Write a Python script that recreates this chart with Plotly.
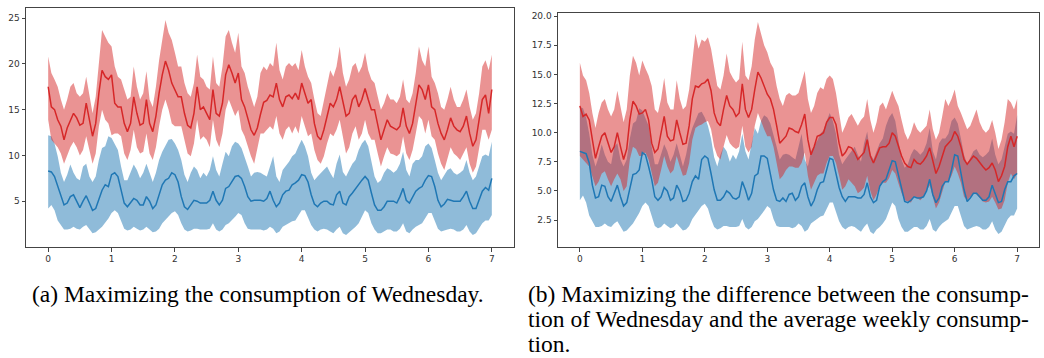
import plotly.graph_objects as go

# time axis in days (sampled every 0.05 day)
N_POINTS = 141
T = [round(i * 0.05, 2) for i in range(N_POINTS)]

# ---------------- panel (a) ----------------
A_BLUE_MEAN = [
    8.3, 8.2, 7.7, 6.6, 5.5, 4.6, 4.8, 5.5, 5.7, 5.0, 4.3, 5.0, 5.6, 4.8, 4.0, 4.2, 5.1, 6.2, 6.8, 6.6,
    7.9, 8.1, 7.7, 6.1, 4.8, 4.4, 4.8, 5.3, 5.1, 4.6, 4.6, 5.5, 5.0, 4.2, 4.6, 5.7, 6.8, 7.3, 7.5, 8.1,
    7.9, 7.1, 5.5, 4.4, 4.1, 4.6, 5.1, 5.0, 4.8, 4.8, 4.8, 5.1, 6.1, 5.1, 4.6, 5.1, 6.4, 6.6, 7.1, 7.7,
    7.8, 7.5, 6.6, 5.5, 5.0, 5.1, 5.1, 5.1, 5.0, 5.3, 6.1, 5.1, 4.4, 4.8, 5.7, 6.1, 6.2, 6.8, 7.0, 7.3,
    7.9, 7.8, 7.1, 5.7, 4.7, 4.4, 4.8, 5.0, 5.0, 4.7, 4.6, 5.7, 6.1, 4.8, 4.6, 5.5, 5.9, 6.4, 6.8, 7.3,
    7.7, 7.3, 5.9, 4.6, 4.0, 4.0, 4.4, 5.0, 5.0, 5.0, 4.8, 5.5, 6.4, 5.1, 4.8, 5.5, 6.1, 6.4, 6.6, 7.3,
    7.8, 7.7, 6.6, 5.1, 4.4, 4.7, 5.2, 5.1, 5.0, 5.0, 5.0, 5.5, 6.1, 5.0, 4.2, 4.2, 5.1, 6.1, 6.5, 6.2,
    7.5,
]
BLUE_UP = [
    12.2, 12.1, 11.3, 9.9, 8.1, 7.1, 7.9, 9.0, 8.1, 7.5, 7.3, 8.8, 9.1, 7.7, 7.1, 7.7, 9.5, 10.8, 11.0, 12.1,
    11.9, 11.3, 10.6, 8.8, 7.3, 7.3, 8.1, 9.0, 8.4, 7.5, 8.1, 9.1, 8.1, 7.1, 8.1, 9.5, 10.4, 11.1, 11.7, 11.8,
    11.3, 10.6, 9.5, 7.9, 7.1, 8.1, 8.8, 8.4, 7.5, 8.1, 7.7, 8.4, 9.9, 8.4, 7.7, 9.1, 10.4, 9.9, 11.0, 11.5,
    11.3, 10.8, 9.9, 8.8, 7.7, 8.1, 8.2, 8.1, 7.9, 7.7, 8.8, 9.9, 7.7, 7.1, 8.4, 8.8, 9.3, 9.9, 10.2, 11.0,
    11.7, 11.0, 9.9, 8.1, 7.3, 7.7, 8.1, 8.4, 8.8, 8.1, 7.5, 9.1, 10.1, 8.2, 7.7, 8.4, 9.1, 9.5, 10.6, 11.3,
    11.7, 11.0, 9.3, 7.7, 7.0, 7.3, 8.1, 8.6, 8.4, 8.1, 8.4, 9.1, 10.4, 8.4, 7.7, 9.1, 9.5, 9.5, 9.9, 11.0,
    11.3, 10.8, 9.5, 8.1, 7.3, 7.9, 8.4, 8.6, 8.1, 7.9, 8.1, 8.4, 9.5, 8.1, 7.3, 7.7, 8.8, 9.9, 10.1, 9.9,
    11.5,
]
BLUE_LO = [
    4.2, 4.6, 4.0, 2.9, 2.4, 1.9, 1.9, 2.0, 2.2, 2.0, 1.9, 2.2, 2.4, 1.9, 1.5, 1.6, 1.9, 2.2, 2.6, 3.1,
    3.7, 4.0, 3.7, 2.8, 2.0, 1.8, 1.9, 2.2, 2.0, 1.8, 1.9, 2.2, 1.9, 1.6, 1.7, 2.0, 2.6, 2.9, 3.3, 3.7,
    3.9, 3.5, 2.6, 1.9, 1.7, 1.8, 2.0, 2.0, 1.9, 1.9, 1.9, 2.0, 2.6, 1.9, 1.7, 1.9, 2.4, 2.6, 2.9, 3.3,
    3.7, 3.5, 2.6, 2.0, 1.9, 1.9, 1.9, 1.9, 1.8, 1.9, 2.2, 2.0, 1.5, 1.7, 2.2, 2.4, 2.6, 2.8, 2.9, 3.5,
    4.0, 4.0, 3.3, 2.4, 1.9, 1.7, 1.9, 2.0, 1.9, 1.7, 1.5, 1.9, 2.2, 1.5, 1.3, 1.7, 1.9, 2.2, 2.6, 3.3,
    4.0, 3.7, 2.6, 1.9, 1.5, 1.5, 1.7, 1.9, 1.9, 1.7, 1.7, 2.0, 2.6, 1.7, 1.5, 1.9, 2.2, 2.4, 2.6, 3.1,
    3.7, 3.7, 2.8, 2.0, 1.7, 1.8, 1.9, 2.0, 1.9, 1.7, 1.7, 1.9, 2.4, 1.7, 1.3, 1.5, 2.0, 2.6, 2.9, 2.9,
    3.5,
]
A_RED_MEAN = [
    17.5, 15.3, 15.0, 13.9, 13.2, 11.7, 13.0, 13.9, 14.6, 14.1, 13.3, 13.5, 15.7, 13.9, 12.1, 13.5, 16.8, 19.3, 18.6, 18.3,
    18.8, 15.7, 15.3, 15.3, 13.5, 12.6, 13.5, 16.4, 14.6, 13.3, 13.5, 16.1, 13.5, 12.6, 14.3, 16.8, 18.8, 20.3, 19.3, 17.9,
    17.2, 16.4, 16.4, 14.6, 13.3, 13.0, 14.6, 17.5, 15.0, 15.3, 14.6, 13.9, 17.2, 14.6, 14.3, 15.7, 18.8, 19.9, 19.0, 17.9,
    19.0, 16.1, 15.3, 13.9, 12.8, 12.2, 13.0, 14.5, 15.8, 16.0, 16.6, 16.4, 17.9, 16.1, 15.3, 16.4, 16.6, 16.2, 16.8, 16.1,
    17.9, 16.8, 15.7, 16.1, 13.5, 12.1, 11.7, 12.8, 14.3, 15.7, 15.3, 16.1, 17.5, 15.7, 14.3, 14.6, 16.1, 16.6, 15.3, 16.1,
    17.3, 16.1, 15.0, 15.0, 13.2, 11.7, 12.8, 13.9, 13.2, 13.0, 12.8, 13.2, 15.2, 13.2, 12.4, 13.5, 15.7, 17.7, 17.2, 16.1,
    17.7, 15.3, 15.0, 13.5, 12.4, 11.7, 12.8, 14.1, 13.2, 12.8, 12.6, 13.2, 14.3, 12.4, 11.0, 11.7, 13.9, 16.1, 16.6, 14.6,
    17.2,
]
A_RED_UP = [
    20.8, 19.0, 18.3, 17.5, 16.1, 15.0, 16.1, 17.5, 17.9, 16.8, 16.4, 16.8, 18.6, 16.4, 14.6, 16.4, 20.4, 23.7, 23.0, 22.3,
    21.9, 19.7, 18.6, 18.3, 17.2, 16.1, 16.4, 19.7, 17.5, 16.1, 16.8, 19.2, 16.1, 15.3, 17.5, 20.4, 22.6, 24.8, 23.4, 22.6,
    21.2, 19.7, 19.7, 17.9, 16.8, 16.4, 17.9, 21.0, 18.6, 18.3, 17.5, 17.2, 20.8, 17.9, 17.5, 19.7, 23.0, 23.7, 22.3, 21.2,
    23.4, 19.7, 19.0, 17.5, 16.4, 15.3, 16.4, 19.0, 19.7, 19.3, 20.1, 19.7, 22.3, 19.3, 18.3, 19.7, 20.1, 19.7, 20.1, 19.3,
    21.5, 19.7, 18.6, 17.9, 16.1, 14.6, 14.3, 16.1, 17.9, 19.3, 18.6, 19.7, 21.9, 19.0, 17.5, 18.3, 19.7, 20.1, 19.0, 19.7,
    21.2, 19.3, 18.3, 17.9, 16.4, 15.0, 15.7, 16.8, 16.1, 16.1, 15.7, 16.4, 18.3, 16.1, 15.7, 16.8, 19.0, 21.9, 20.4, 19.7,
    21.9, 18.6, 17.9, 16.8, 15.3, 15.0, 16.1, 17.5, 16.1, 15.3, 15.3, 16.1, 17.2, 15.3, 13.9, 14.6, 16.8, 19.7, 20.4, 19.3,
    21.0,
]
A_RED_LO = [
    13.9, 11.7, 11.3, 10.9, 10.2, 9.1, 9.9, 10.9, 11.5, 10.9, 10.0, 10.6, 12.1, 10.6, 9.1, 10.2, 13.2, 15.0, 13.9, 13.5,
    12.2, 12.4, 12.4, 12.1, 10.2, 9.5, 10.6, 12.8, 10.9, 10.2, 10.4, 12.4, 10.2, 9.5, 10.9, 13.2, 15.0, 16.1, 15.0, 13.5,
    13.2, 13.2, 13.2, 11.7, 10.2, 9.9, 11.3, 13.9, 11.7, 12.1, 11.7, 10.9, 13.9, 11.7, 10.9, 12.4, 15.0, 16.1, 15.3, 14.3,
    15.0, 12.8, 12.1, 10.9, 9.9, 9.1, 10.6, 12.4, 12.4, 12.8, 13.2, 12.8, 14.3, 12.4, 11.7, 12.8, 13.2, 12.4, 13.2, 12.4,
    14.3, 13.2, 12.1, 12.4, 10.6, 9.5, 9.1, 9.9, 11.3, 12.4, 12.1, 12.8, 13.9, 12.1, 10.2, 10.9, 12.4, 13.2, 11.7, 12.4,
    13.9, 12.4, 11.7, 11.7, 10.2, 8.8, 9.9, 10.9, 10.2, 10.1, 9.9, 10.2, 12.1, 10.2, 9.5, 10.6, 12.4, 14.3, 13.9, 12.4,
    13.9, 12.1, 11.7, 10.2, 9.1, 8.4, 9.5, 10.9, 10.2, 9.9, 9.5, 10.2, 10.9, 9.1, 8.1, 8.8, 10.9, 12.8, 12.8, 11.7,
    12.8,
]

# ---------------- panel (b) ----------------
B_BLUE_MEAN = [
    8.4, 8.3, 8.2, 7.4, 5.5, 4.4, 4.5, 5.5, 5.4, 4.5, 4.1, 4.8, 5.5, 4.5, 3.7, 4.0, 5.1, 6.4, 6.5, 6.8,
    8.3, 8.1, 7.1, 6.0, 4.5, 4.2, 4.5, 5.3, 5.0, 4.2, 4.4, 5.5, 5.0, 4.1, 4.2, 4.8, 5.8, 6.3, 6.0, 7.7,
    8.0, 7.8, 6.5, 5.1, 4.2, 4.2, 4.5, 5.0, 4.8, 4.4, 4.3, 4.5, 5.8, 5.1, 4.2, 4.8, 6.3, 6.5, 8.0, 8.0,
    7.8, 6.5, 5.1, 4.2, 4.1, 4.4, 4.1, 4.7, 4.8, 4.2, 4.5, 5.4, 5.7, 4.5, 3.7, 4.2, 5.1, 5.7, 5.8, 6.8,
    7.8, 7.7, 6.5, 5.3, 4.5, 4.1, 4.5, 4.5, 4.5, 4.4, 4.4, 4.7, 5.7, 4.5, 4.0, 4.2, 5.4, 5.8, 6.0, 6.8,
    7.6, 7.5, 6.3, 5.1, 4.1, 4.0, 4.2, 4.5, 4.4, 4.4, 4.5, 5.0, 6.0, 4.7, 4.0, 4.4, 5.4, 5.8, 5.8, 6.8,
    8.1, 8.0, 6.5, 5.1, 4.1, 4.4, 4.8, 4.8, 4.5, 4.2, 4.2, 4.5, 5.5, 4.8, 4.0, 4.1, 5.1, 5.8, 5.8, 6.3,
    6.5,
]
B_RED_MEAN = [
    12.3, 11.4, 11.6, 11.1, 9.4, 7.8, 8.8, 9.7, 10.0, 9.1, 8.3, 8.8, 10.0, 8.8, 7.7, 8.6, 11.1, 12.7, 12.3, 11.6,
    11.7, 12.0, 11.1, 9.1, 8.3, 8.6, 10.0, 11.4, 9.7, 9.3, 9.4, 11.1, 10.0, 9.0, 9.1, 10.6, 12.9, 14.0, 13.9, 14.2,
    14.3, 14.6, 13.6, 11.7, 10.9, 10.6, 12.0, 13.2, 12.3, 12.0, 11.4, 11.7, 14.2, 12.0, 11.3, 12.0, 13.7, 15.2, 14.7, 14.0,
    13.3, 12.9, 12.0, 10.6, 9.1, 9.4, 9.7, 10.4, 10.3, 10.1, 10.0, 10.7, 11.6, 9.4, 8.1, 8.8, 9.7, 9.8, 10.0, 10.9,
    11.3, 11.3, 10.7, 9.1, 8.0, 8.3, 8.8, 8.7, 8.3, 7.7, 8.0, 8.3, 9.4, 8.0, 7.4, 8.0, 8.7, 8.8, 8.8, 9.1,
    10.0, 9.7, 8.8, 8.0, 7.4, 7.1, 7.0, 7.7, 7.4, 7.3, 7.6, 8.0, 8.7, 7.7, 6.5, 7.1, 8.0, 8.8, 9.1, 9.4,
    10.1, 9.7, 8.8, 7.7, 7.3, 7.7, 8.0, 7.8, 7.4, 7.1, 6.8, 7.0, 7.4, 6.8, 5.8, 6.3, 7.1, 8.8, 9.7, 8.8,
    9.7,
]
B_RED_UP = [
    16.0, 14.9, 14.5, 13.4, 11.7, 10.4, 11.7, 12.6, 12.9, 12.0, 11.4, 12.0, 13.6, 12.3, 10.9, 12.0, 14.9, 16.6, 16.0, 14.9,
    16.2, 15.5, 14.9, 14.0, 12.0, 11.7, 12.9, 14.7, 12.6, 12.0, 12.0, 14.5, 12.9, 12.0, 12.3, 13.7, 16.3, 18.5, 17.2, 18.0,
    17.8, 18.2, 17.2, 15.5, 14.0, 13.7, 14.9, 16.8, 15.2, 14.7, 14.3, 14.6, 17.8, 14.9, 14.5, 15.7, 18.0, 19.5, 18.6, 17.5,
    16.9, 16.0, 15.5, 14.0, 12.9, 12.3, 13.2, 13.4, 13.2, 13.2, 13.4, 14.3, 15.3, 12.9, 11.7, 12.3, 13.4, 13.9, 13.7, 14.6,
    14.9, 14.6, 13.4, 11.7, 10.0, 10.6, 11.3, 11.6, 11.1, 10.6, 11.1, 11.4, 12.9, 11.1, 10.0, 10.9, 12.3, 12.6, 12.0, 12.9,
    13.6, 12.9, 12.3, 11.1, 10.0, 9.4, 10.0, 10.9, 10.3, 10.0, 10.3, 10.6, 12.0, 10.3, 9.4, 10.0, 11.4, 12.9, 12.3, 12.9,
    13.7, 12.3, 11.7, 10.9, 10.3, 10.6, 11.4, 12.0, 10.9, 10.3, 10.0, 10.3, 11.1, 10.0, 8.6, 9.4, 10.9, 12.9, 12.6, 12.0,
    12.9,
]
B_RED_LO = [
    8.0, 7.7, 7.4, 7.1, 6.3, 5.4, 5.8, 6.5, 6.7, 6.0, 5.4, 6.0, 6.5, 6.0, 5.0, 5.4, 7.7, 8.8, 8.6, 8.0,
    8.0, 8.3, 7.7, 6.5, 5.4, 5.7, 6.8, 8.0, 7.1, 6.5, 6.8, 8.0, 7.1, 6.3, 6.4, 7.4, 9.4, 10.4, 10.6, 10.7,
    10.9, 11.0, 10.3, 8.8, 8.0, 7.7, 8.8, 9.8, 9.1, 8.8, 8.6, 8.8, 10.6, 8.8, 8.3, 8.8, 10.6, 11.7, 11.1, 10.3,
    9.7, 9.7, 8.8, 7.4, 6.0, 6.3, 6.8, 7.1, 7.1, 7.0, 7.0, 7.4, 8.3, 6.3, 5.1, 5.7, 6.3, 6.5, 6.5, 7.4,
    8.0, 8.0, 7.4, 6.3, 5.1, 5.4, 6.0, 5.7, 5.4, 4.8, 5.0, 5.3, 6.3, 5.0, 4.2, 4.7, 5.4, 5.7, 5.7, 6.1,
    6.8, 6.5, 5.7, 4.8, 4.2, 4.1, 4.0, 4.5, 4.4, 4.2, 4.5, 5.0, 5.5, 4.5, 3.5, 4.0, 4.8, 5.8, 5.8, 6.3,
    7.1, 6.5, 5.7, 4.5, 4.2, 4.5, 4.8, 4.7, 4.4, 4.1, 4.0, 4.1, 4.5, 4.0, 3.4, 3.5, 4.2, 5.7, 6.5, 6.0,
    6.5,
]

X_TICKS = [0, 1, 2, 3, 4, 5, 6, 7]
A_Y_TICKS = [5, 10, 15, 20, 25]
B_Y_TICKS = [2.5, 5.0, 7.5, 10.0, 12.5, 15.0, 17.5, 20.0]

CAPTION_A = "(a) Maximizing the consumption of Wednesday."
CAPTION_B = [
    "(b) Maximizing the difference between the consump-",
    "tion of Wednesday and the average weekly consump-",
    "tion.",
]

BLUE = "#1f77b4"
RED = "#d62728"
BLUE_FILL = "rgba(31,119,180,0.5)"
RED_FILL = "rgba(214,39,40,0.5)"

fig = go.Figure()


def add_band(xa, ya, up, lo, color):
    fig.add_trace(go.Scatter(
        x=T + T[::-1], y=up + lo[::-1], fill="toself", fillcolor=color,
        line=dict(width=0), mode="lines", hoverinfo="skip",
        xaxis=xa, yaxis=ya, showlegend=False))


def add_line(xa, ya, vals, color):
    fig.add_trace(go.Scatter(
        x=T, y=vals, mode="lines", line=dict(color=color, width=1.5),
        xaxis=xa, yaxis=ya, showlegend=False))


add_band("x", "y", BLUE_UP, BLUE_LO, BLUE_FILL)
add_band("x", "y", A_RED_UP, A_RED_LO, RED_FILL)
add_line("x", "y", A_BLUE_MEAN, BLUE)
add_line("x", "y", A_RED_MEAN, RED)

add_band("x2", "y2", BLUE_UP, BLUE_LO, BLUE_FILL)
add_band("x2", "y2", B_RED_UP, B_RED_LO, RED_FILL)
add_line("x2", "y2", B_BLUE_MEAN, BLUE)
add_line("x2", "y2", B_RED_MEAN, RED)

W, H = 1044, 358
axis_common = dict(
    showgrid=False, zeroline=False, showline=True, mirror=True,
    linecolor="#444444", linewidth=1, ticks="outside", ticklen=3.5,
    tickwidth=0.8, tickcolor="#444444",
    tickfont=dict(family="DejaVu Sans", size=9, color="#333333"),
)

fig.update_layout(
    width=W, height=H, margin=dict(l=0, r=0, t=0, b=0),
    paper_bgcolor="white", plot_bgcolor="white", showlegend=False,
    xaxis=dict(domain=[26 / W, 514 / W], range=[-0.35, 7.35], anchor="y",
               tickvals=X_TICKS, **axis_common),
    yaxis=dict(domain=[1 - 247 / H, 1 - 8 / H], range=[0.0, 26.1], anchor="x",
               tickvals=A_Y_TICKS, **axis_common),
    xaxis2=dict(domain=[558 / W, 1039 / W], range=[-0.35, 7.35], anchor="y2",
                tickvals=X_TICKS, **axis_common),
    yaxis2=dict(domain=[1 - 247 / H, 1 - 12.7 / H], range=[0.19, 20.3], anchor="x2",
                tickvals=B_Y_TICKS, tickformat=".1f", **axis_common),
)

cap_font = dict(family="Liberation Serif, Times New Roman, serif", size=23.5, color="black")
fig.add_annotation(text=CAPTION_A, x=30 / W, y=1 - 294.3 / H, xref="paper", yref="paper",
                   xanchor="left", yanchor="middle", showarrow=False, font=cap_font)
for i, line in enumerate(CAPTION_B):
    fig.add_annotation(text=line, x=526 / W, y=1 - (294.3 + 25 * i) / H, xref="paper",
                       yref="paper", xanchor="left", yanchor="middle", showarrow=False,
                       font=cap_font)

fig.write_html("out.html")
